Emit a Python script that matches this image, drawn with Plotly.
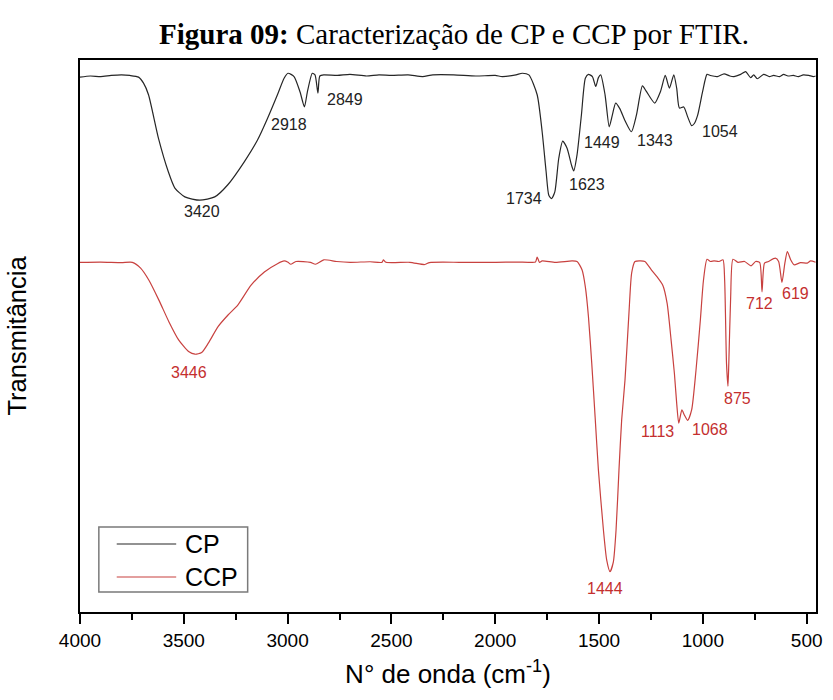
import plotly.graph_objects as go

# FTIR spectra: wavenumber (cm-1) and transmittance (arbitrary units, offset traces)
cp_wavenumber = [
    4000, 3950, 3900, 3850, 3800, 3760, 3718, 3694, 3670, 3622, 3575, 3543, 3495,
    3423, 3351, 3288, 3208, 3145, 3097, 3049, 3017, 2998, 2969, 2940, 2919, 2905,
    2881, 2868, 2854, 2845, 2826, 2760, 2700, 2620, 2560, 2500, 2420, 2350, 2300,
    2200, 2093, 2000, 1966, 1900, 1870, 1838, 1798, 1774, 1755, 1742, 1729, 1713,
    1694, 1675, 1654, 1633, 1622, 1606, 1585, 1566, 1551, 1532, 1516, 1503, 1492,
    1471, 1451, 1436, 1420, 1400, 1376, 1344, 1320, 1291, 1272, 1232, 1204, 1181,
    1161, 1140, 1126, 1113, 1092, 1073, 1054, 1041, 1025, 1001, 980, 964, 930, 898,
    870, 850, 818, 794, 770, 755, 738, 707, 680, 659, 630, 611, 590, 564, 540, 516,
    490, 468, 457,
]
cp_transmittance = [
    96.9, 97.1, 97.0, 97.2, 97.3, 97.2, 96.9, 95.8, 93.7, 85.8, 79.8, 76.8, 75.2,
    74.6, 75.2, 77.4, 81.6, 85.5, 89.4, 93.7, 96.7, 97.6, 97.0, 94.2, 91.5, 94.2,
    97.6, 97.3, 94.0, 97.1, 97.3, 97.2, 97.4, 97.1, 97.3, 97.2, 97.3, 97.0, 97.3,
    97.3, 97.1, 97.2, 97.0, 97.3, 97.6, 97.3, 93.7, 87.0, 79.8, 75.5, 74.9, 76.1,
    82.2, 85.3, 84.0, 81.0, 79.9, 82.8, 90.0, 96.7, 97.4, 97.0, 95.2, 96.8, 97.3,
    93.7, 87.9, 90.0, 92.2, 91.2, 89.1, 87.0, 90.0, 95.3, 94.3, 92.2, 94.3, 97.2,
    94.9, 97.3, 94.9, 91.3, 91.5, 89.7, 88.1, 88.5, 90.0, 94.3, 97.4, 97.2, 97.0, 97.5,
    97.1, 97.0, 97.4, 97.9, 96.8, 97.3, 96.6, 97.4, 97.0, 97.2, 97.0, 97.4, 97.1, 97.2,
    97.0, 97.3, 97.2, 97.0, 97.1,
]

ccp_wavenumber = [
    4000, 3900, 3800, 3748, 3708, 3668, 3620, 3572, 3525, 3477, 3446, 3414, 3382,
    3335, 3287, 3240, 3176, 3112, 3049, 3017, 2998, 2985, 2960, 2890, 2866, 2826,
    2764, 2699, 2603, 2545, 2539, 2526, 2411, 2340, 2317, 2172, 2093, 1997, 1900,
    1838, 1806, 1798, 1787, 1774, 1710, 1630, 1606, 1582, 1566, 1551, 1535, 1519,
    1503, 1479, 1463, 1447, 1431, 1418, 1404, 1391, 1375, 1356, 1343, 1327, 1300,
    1279, 1272, 1248, 1220, 1193, 1172, 1153, 1137, 1126, 1116, 1101, 1089, 1073,
    1054, 1033, 1012, 997, 980, 963, 946, 922, 903, 895, 886, 879, 875, 866, 855,
    831, 799, 768, 746, 726, 715, 703, 684, 651, 635, 619, 605, 593, 577, 561, 529,
    497, 481, 457,
]
ccp_transmittance = [
    63.35, 63.4, 63.3, 63.35, 62.3, 60.1, 56.5, 52.6, 49.3, 47.2, 46.7, 47.0, 48.7,
    51.7, 53.8, 55.6, 59.2, 61.6, 63.1, 63.6, 63.35, 63.0, 63.5, 63.35, 63.0, 63.8,
    63.5, 63.35, 63.45, 63.35, 63.8, 63.35, 63.35, 62.95, 63.3, 63.35, 63.35, 63.35,
    63.4, 63.35, 63.4, 64.3, 63.35, 63.6, 63.35, 63.6, 63.5, 62.0, 58.9, 53.5, 45.0,
    35.4, 25.7, 14.9, 9.4, 7.3, 9.1, 14.9, 25.7, 34.8, 42.0, 54.1, 61.4, 63.5, 63.6,
    63.5, 63.2, 62.0, 60.7, 59.2, 55.9, 49.3, 43.2, 37.8, 34.2, 36.6, 35.7, 34.7,
    36.6, 43.8, 52.9, 60.1, 63.9, 63.5, 63.6, 63.5, 63.8, 60.1, 45.0, 40.9, 45.0,
    57.1, 63.9, 63.35, 63.5, 62.7, 63.5, 63.3, 58.0, 63.2, 63.5, 64.1, 63.5, 59.7,
    63.2, 65.3, 63.8, 62.9, 63.3, 63.2, 63.6, 63.35,
]

# Band labels: text, position (wavenumber, transmittance)
cp_band_text = ["3420", "2918", "2849", "1734", "1623", "1449", "1343", "1054"]
cp_band_x = [3414, 2995, 2723, 1861, 1556, 1485, 1230, 919]
cp_band_y = [72.5, 88.4, 92.9, 75.0, 77.4, 85.0, 85.5, 87.0]

ccp_band_text = ["3446", "1444", "1113", "1068", "875", "712", "619"]
ccp_band_x = [3477, 1469, 1217, 967, 832, 728, 553]
ccp_band_y = [43.3, 4.3, 32.7, 33.0, 38.7, 55.9, 57.7]

series_names = ["CP", "CCP"]

CP_COLOR = "#262626"
CCP_COLOR = "#c8413f"
CCP_TEXT = "#c42f2f"
SANS = "Liberation Sans, Arial, sans-serif"

fig = go.Figure()
fig.add_trace(go.Scatter(
    x=cp_wavenumber, y=cp_transmittance, mode="lines", name=series_names[0],
    line=dict(color=CP_COLOR, width=1.2, shape="spline", smoothing=0.6),
    showlegend=False,
))
fig.add_trace(go.Scatter(
    x=ccp_wavenumber, y=ccp_transmittance, mode="lines", name=series_names[1],
    line=dict(color=CCP_COLOR, width=1.2, shape="spline", smoothing=0.6),
    showlegend=False,
))

for t, x, y in zip(cp_band_text, cp_band_x, cp_band_y):
    fig.add_annotation(x=x, y=y, text=t, showarrow=False,
                       font=dict(family=SANS, size=16, color="#222222"))
for t, x, y in zip(ccp_band_text, ccp_band_x, ccp_band_y):
    fig.add_annotation(x=x, y=y, text=t, showarrow=False,
                       font=dict(family=SANS, size=16, color=CCP_TEXT))

# Boxed key in the lower-left corner of the plot area (paper coordinates)
key_box = dict(x0=0.0256, x1=0.2278, y0=0.0362, y1=0.154)
key_rows = [(0.1232, CP_COLOR), (0.0634, CCP_COLOR)]
fig.add_shape(type="rect", xref="paper", yref="paper", **key_box,
              line=dict(color="#7a7a7a", width=1.5), fillcolor="white", layer="above")
for (ky, col), name in zip(key_rows, series_names):
    fig.add_shape(type="line", xref="paper", yref="paper",
                  x0=0.0499, x1=0.1307, y0=ky, y1=ky,
                  line=dict(color=col, width=1.2), layer="above")
    fig.add_annotation(xref="paper", yref="paper", x=0.1402, y=ky, text=name,
                       showarrow=False, xanchor="left", yanchor="middle",
                       font=dict(family=SANS, size=25, color="black"))

fig.update_layout(
    width=833, height=700,
    margin=dict(l=80, r=11, t=60, b=88),
    paper_bgcolor="white", plot_bgcolor="white",
    title=dict(
        text="<b>Figura 09:</b> Caracterização de CP e CCP por FTIR.",
        x=0.545, xanchor="center", y=1 - 34 / 700, yanchor="middle",
        font=dict(family="Liberation Serif, Times New Roman, serif", size=29, color="black"),
    ),
    showlegend=False,
)

fig.update_xaxes(
    range=[4000, 455], dtick=500, tick0=0,
    showline=True, mirror=True, linecolor="black", linewidth=2,
    ticks="outside", ticklen=10, tickwidth=1.5, tickcolor="black",
    minor=dict(dtick=250, tick0=0, ticks="outside", ticklen=6, tickwidth=1.5, tickcolor="black"),
    showgrid=False, zeroline=False,
    tickfont=dict(family=SANS, size=19, color="black"),
    title=dict(text="N° de onda (cm<sup>-1</sup>)", standoff=15,
               font=dict(family=SANS, size=26, color="black")),
)
fig.update_yaxes(
    range=[0, 100],
    showline=True, mirror=True, linecolor="black", linewidth=2,
    ticks="", showticklabels=False, showgrid=False, zeroline=False,
    title=dict(text="Transmitância", standoff=44,
               font=dict(family=SANS, size=25.5, color="black")),
)

fig.write_html("out.html")
